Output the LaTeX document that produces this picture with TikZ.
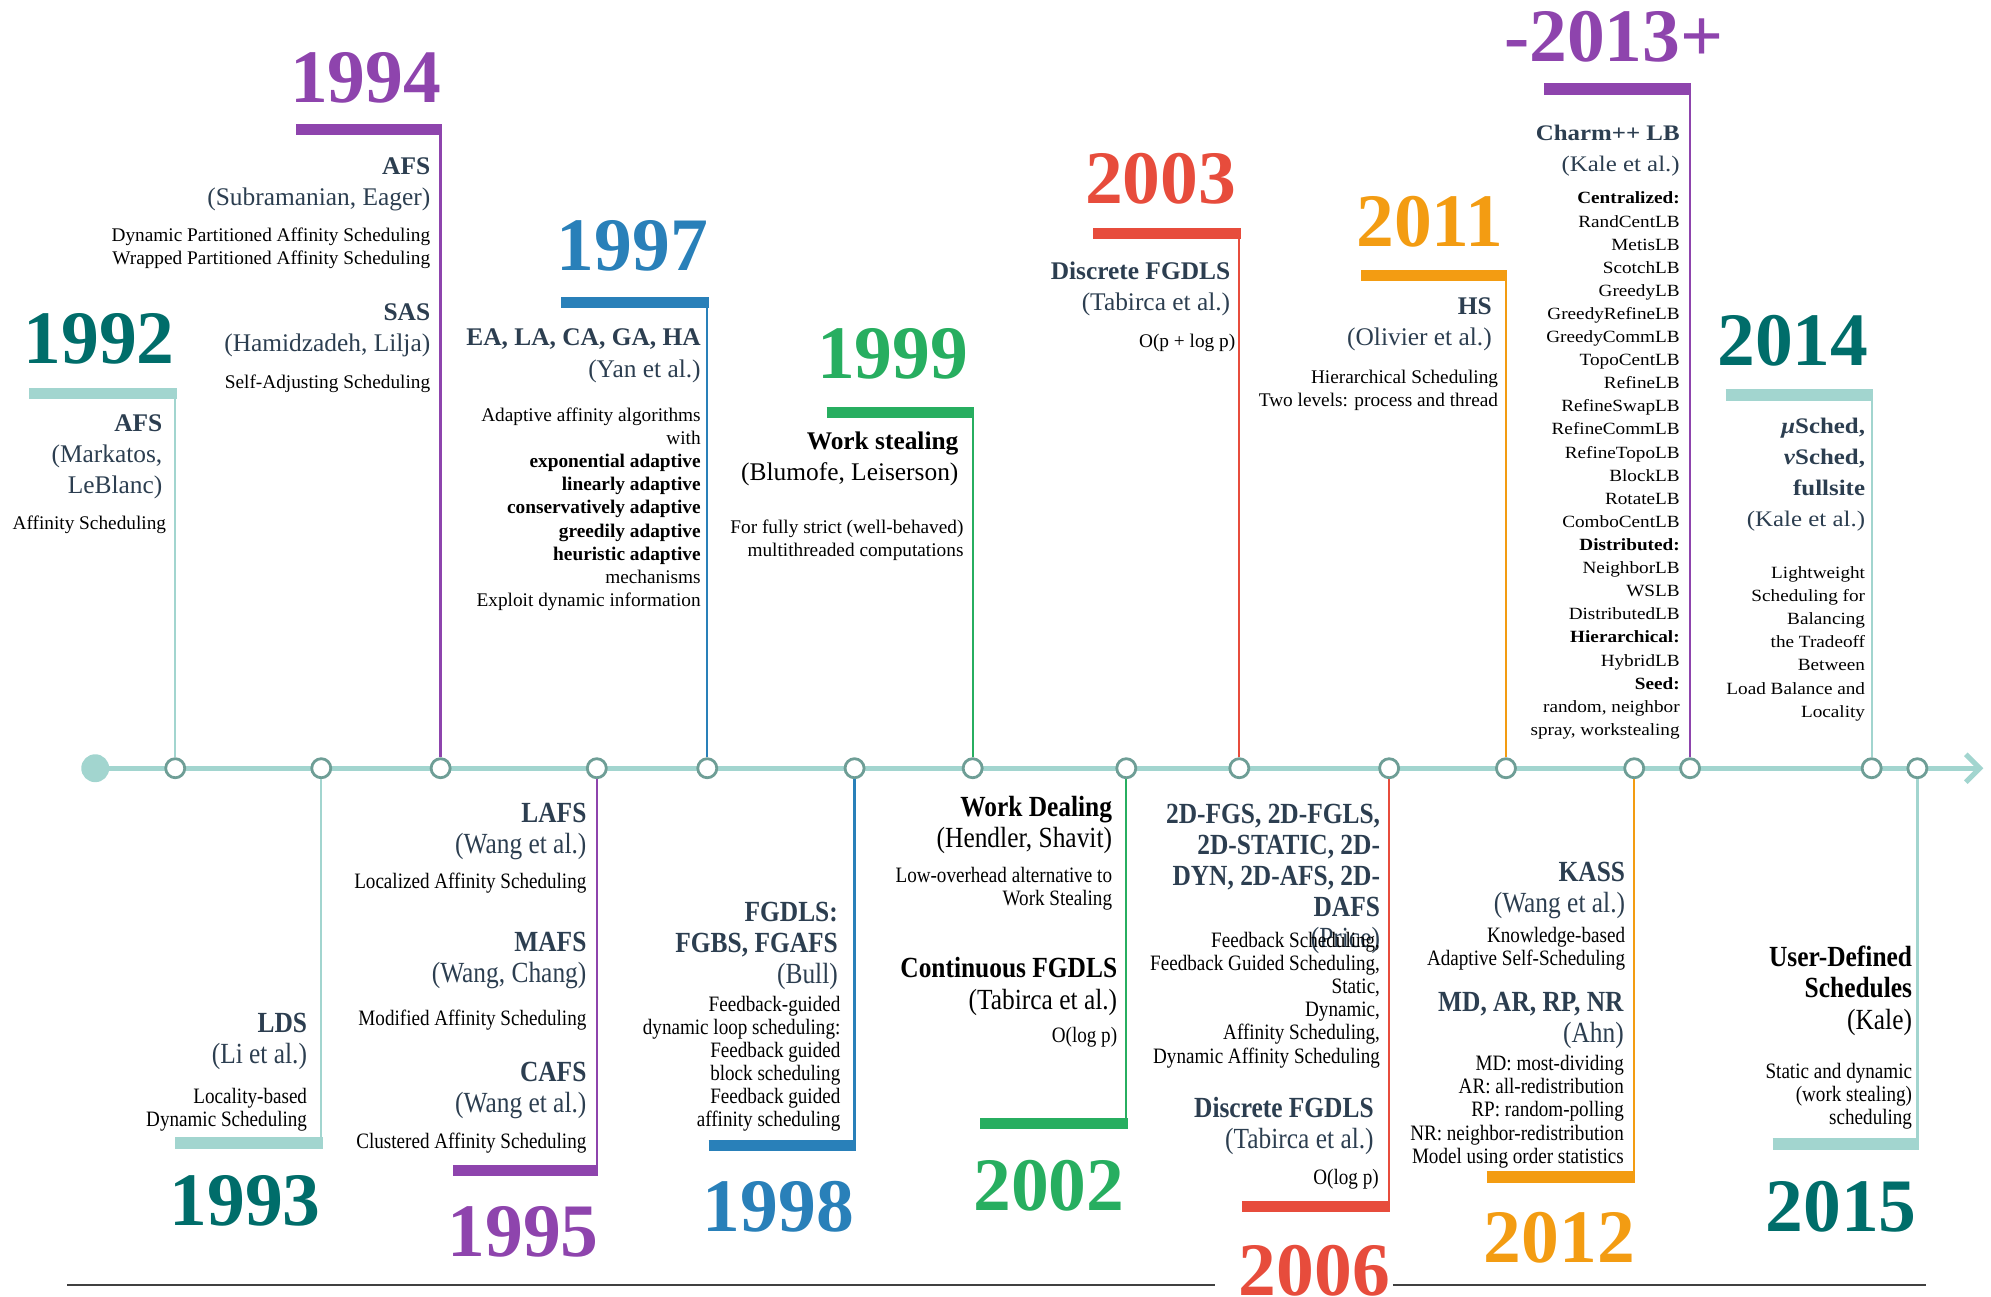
\documentclass[tikz,border=0pt]{standalone}
\usepackage{fontspec}
\setmainfont{Liberation Serif}
\newfontfamily\cond[FakeStretch=0.87]{Liberation Serif}
\newfontfamily\wide[FakeStretch=1.12]{Liberation Serif}
\usetikzlibrary{arrows.meta}
\definecolor{tealdark}{HTML}{006D6A}
\definecolor{teallight}{HTML}{A2D5CF}
\definecolor{circ}{HTML}{6E9E96}
\definecolor{cpurple}{HTML}{8E44AD}
\definecolor{cblue}{HTML}{2980B9}
\definecolor{cgreen}{HTML}{27AE60}
\definecolor{cred}{HTML}{E74C3C}
\definecolor{corange}{HTML}{F39C12}
\definecolor{slate}{HTML}{2C3E50}
\begin{document}
\begin{tikzpicture}[x=1pt,y=-1pt,
  yr/.style={font=\bfseries\fontsize{59.5}{60}\selectfont, inner sep=0, anchor=center},
  hd/.style={anchor=north east, align=right, inner sep=0, text=slate, font=\fontsize{20}{24.5}\selectfont},
  ds/.style={anchor=north east, align=right, inner sep=0, text=black, font=\fontsize{15.2}{18.2}\selectfont},
  hdc/.style={hd, font=\cond\fontsize{23}{24.5}\selectfont},
  dsc/.style={ds, font=\cond\fontsize{17.3}{18.2}\selectfont},
  hdw/.style={hd, font=\wide\fontsize{17.5}{24.5}\selectfont},
  dsw/.style={ds, font=\wide\fontsize{13.5}{18.2}\selectfont},
  dot/.style={circle, draw=circ, fill=white, line width=2.2pt, minimum size=15pt, inner sep=0},
  startdot/.style={circle, fill=teallight, minimum size=22pt, inner sep=0},
  axis/.style={teallight, line width=4pt, -{Straight Barb[length=11pt,width=22pt]}},
  bar/.style={line width=9pt},
  vl/.style={line width=1.8pt},
  baseline/.style={black!75, line width=1pt}
]
\useasboundingbox (0,0) rectangle (1568,1021);

% axis
\node[startdot] (c0) at (75,605) {};
\coordinate (aend) at (1562,605);
\draw[axis] (c0) -- (aend);

% circles
\foreach \n/\x in {92/138,93/253,94/347,95/470,97/557,98/673,99/766,02/887,03/976,06/1094,11/1186,12/1287,13/1331,14/1474,15/1510}
  \node[dot] (c\n) at (\x,605) {};

% bar coordinates
\coordinate (l92) at (23,310);   \coordinate (b92) at (139,310);
\coordinate (l93) at (138,900);  \coordinate (b93) at (254,900);
\coordinate (l94) at (233,102);  \coordinate (b94) at (348,102);
\coordinate (l95) at (357,922);  \coordinate (b95) at (471,922);
\coordinate (l97) at (442,238);  \coordinate (b97) at (558,238);
\coordinate (l98) at (558,902);  \coordinate (b98) at (674,902);
\coordinate (l99) at (651,325);  \coordinate (b99) at (767,325);
\coordinate (l02) at (772,885);  \coordinate (b02) at (888,885);
\coordinate (l03) at (861,184);  \coordinate (b03) at (977,184);
\coordinate (l06) at (978,950);  \coordinate (b06) at (1095,950);
\coordinate (l11) at (1072,217); \coordinate (b11) at (1187,217);
\coordinate (l12) at (1171,927); \coordinate (b12) at (1288,927);
\coordinate (l13) at (1216,70);  \coordinate (b13) at (1332,70);
\coordinate (l14) at (1359,311); \coordinate (b14) at (1475,311);
\coordinate (l15) at (1396,901); \coordinate (b15) at (1511,901);

% vertical connectors
\draw[vl, teallight] (c92.north) -- (c92 |- b92);
\draw[vl, teallight] (c93.south) -- (c93 |- b93);
\draw[vl, cpurple]   (c94.north) -- (c94 |- b94);
\draw[vl, cpurple]   (c95.south) -- (c95 |- b95);
\draw[vl, cblue]     (c97.north) -- (c97 |- b97);
\draw[vl, cblue]     (c98.south) -- (c98 |- b98);
\draw[vl, cgreen]    (c99.north) -- (c99 |- b99);
\draw[vl, cgreen]    (c02.south) -- (c02 |- b02);
\draw[vl, cred]      (c03.north) -- (c03 |- b03);
\draw[vl, cred]      (c06.south) -- (c06 |- b06);
\draw[vl, corange]   (c11.north) -- (c11 |- b11);
\draw[vl, corange]   (c12.south) -- (c12 |- b12);
\draw[vl, cpurple]   (c13.north) -- (c13 |- b13);
\draw[vl, teallight] (c14.north) -- (c14 |- b14);
\draw[vl, teallight] (c15.south) -- (c15 |- b15);

% bars
\draw[bar, teallight] (l92) -- (b92);
\draw[bar, teallight] (l93) -- (b93);
\draw[bar, cpurple]   (l94) -- (b94);
\draw[bar, cpurple]   (l95) -- (b95);
\draw[bar, cblue]     (l97) -- (b97);
\draw[bar, cblue]     (l98) -- (b98);
\draw[bar, cgreen]    (l99) -- (b99);
\draw[bar, cgreen]    (l02) -- (b02);
\draw[bar, cred]      (l03) -- (b03);
\draw[bar, cred]      (l06) -- (b06);
\draw[bar, corange]   (l11) -- (b11);
\draw[bar, corange]   (l12) -- (b12);
\draw[bar, cpurple]   (l13) -- (b13);
\draw[bar, teallight] (l14) -- (b14);
\draw[bar, teallight] (l15) -- (b15);

% years
\node[yr, text=tealdark] (y92) at (78,267) {1992};
\node[yr, text=tealdark] (y93) at (193,946) {1993};
\node[yr, text=cpurple]  (y94) at (288,61) {1994};
\node[yr, text=cpurple]  (y95) at (412,970) {1995};
\node[yr, text=cblue]    (y97) at (498,194) {1997};
\node[yr, text=cblue]    (y98) at (613,950) {1998};
\node[yr, text=cgreen]   (y99) at (703,279) {1999};
\node[yr, text=cgreen]   (y02) at (826,934) {2002};
\node[yr, text=cred]     (y03) at (914,141) {2003};
\node[yr, text=cred]     (y06) at (1035,1001) {2006};
\node[yr, text=corange]  (y11) at (1126,175) {2011};
\node[yr, text=corange]  (y12) at (1228,975) {2012};
\node[yr, text=cpurple]  (y13) at (1271,29) {-2013+};
\node[yr, text=tealdark] (y14) at (1412,268) {2014};
\node[yr, text=tealdark] (y15) at (1450,950) {2015};

% 1992
\node[hd] (h92) at (128,326) {\textbf{AFS}\\(Markatos,\\LeBlanc)};
\node[ds] (d92) at (131,406) {Affinity Scheduling};
% 1993
\node[hdc] (h93) at (242,798) {\textbf{LDS}\\(Li et al.)};
\node[dsc] (d93) at (242,857) {Locality-based\\Dynamic Scheduling};
% 1994
\node[hd] (h94a) at (339,124) {\textbf{AFS}\\(Subramanian, Eager)};
\node[ds] (d94a) at (339,179) {Dynamic Partitioned Affinity Scheduling\\Wrapped Partitioned Affinity Scheduling};
\node[hd] (h94b) at (339,239) {\textbf{SAS}\\(Hamidzadeh, Lilja)};
\node[ds] (d94b) at (339,295) {Self-Adjusting Scheduling};
% 1995
\node[hdc] (h95a) at (462,632) {\textbf{LAFS}\\(Wang et al.)};
\node[dsc] (d95a) at (462,687) {Localized Affinity Scheduling};
\node[hdc] (h95b) at (462,734) {\textbf{MAFS}\\(Wang, Chang)};
\node[dsc] (d95b) at (462,795) {Modified Affinity Scheduling};
\node[hdc] (h95c) at (462,836) {\textbf{CAFS}\\(Wang et al.)};
\node[dsc] (d95c) at (462,892) {Clustered Affinity Scheduling};
% 1997
\node[hd] (h97) at (552,259) {\textbf{EA, LA, CA, GA, HA}\\(Yan et al.)};
\node[ds] (d97) at (552,321) {Adaptive affinity algorithms\\with\\\textbf{exponential adaptive}\\\textbf{linearly adaptive}\\\textbf{conservatively adaptive}\\\textbf{greedily adaptive}\\\textbf{heuristic adaptive}\\mechanisms\\Exploit dynamic information};
% 1998
\node[hdc] (h98) at (660,710) {\textbf{FGDLS:}\\\textbf{FGBS, FGAFS}\\(Bull)};
\node[dsc] (d98) at (662,784) {Feedback-guided\\dynamic loop scheduling:\\Feedback guided\\block scheduling\\Feedback guided\\affinity scheduling};
% 1999
\node[hd, text=black] (h99) at (755,340) {\textbf{Work stealing}\\(Blumofe, Leiserson)};
\node[ds] (d99) at (759,409) {For fully strict (well-behaved)\\multithreaded computations};
% 2002
\node[hdc, text=black] (h02a) at (876,627) {\textbf{Work Dealing}\\(Hendler, Shavit)};
\node[dsc] (d02a) at (876,683) {Low-overhead alternative to\\Work Stealing};
\node[hdc, text=black] (h02b) at (880,754) {\textbf{Continuous FGDLS}\\(Tabirca et al.)};
\node[dsc] (d02b) at (880,809) {O(log p)};
% 2003
\node[hd] (h03) at (969,206) {\textbf{Discrete FGDLS}\\(Tabirca et al.)};
\node[ds] (d03) at (973,263) {O(p + log p)};
% 2006
\node[hdc] (h06a) at (1087,633) {\textbf{2D-FGS, 2D-FGLS,}\\\textbf{2D-STATIC, 2D-}\\\textbf{DYN, 2D-AFS, 2D-}\\\textbf{DAFS}\\(Price)};
\node[dsc] (d06a) at (1087,734) {Feedback Scheduling,\\Feedback Guided Scheduling,\\Static,\\Dynamic,\\Affinity Scheduling,\\Dynamic Affinity Scheduling};
\node[hdc] (h06b) at (1082,864) {\textbf{Discrete FGDLS}\\(Tabirca et al.)};
\node[dsc] (d06b) at (1086,921) {O(log p)};
% 2011
\node[hd] (h11) at (1175,234) {\textbf{HS}\\(Olivier et al.)};
\node[ds] (d11) at (1180,291) {Hierarchical Scheduling\\Two levels: process and thread};
% 2012
\node[hdc] (h12a) at (1280,679) {\textbf{KASS}\\(Wang et al.)};
\node[dsc] (d12a) at (1280,730) {Knowledge-based\\Adaptive Self-Scheduling};
\node[hdc] (h12b) at (1279,781) {\textbf{MD, AR, RP, NR}\\(Ahn)};
\node[dsc] (d12b) at (1279,831) {MD: most-dividing\\AR: all-redistribution\\RP: random-polling\\NR: neighbor-redistribution\\Model using order statistics};
% 2013
\node[hdw] (h13) at (1323,98) {\textbf{Charm++ LB}\\(Kale et al.)};
\node[dsw] (d13) at (1323,151) {\textbf{Centralized:}\\RandCentLB\\MetisLB\\ScotchLB\\GreedyLB\\GreedyRefineLB\\GreedyCommLB\\TopoCentLB\\RefineLB\\RefineSwapLB\\RefineCommLB\\RefineTopoLB\\BlockLB\\RotateLB\\ComboCentLB\\\textbf{Distributed:}\\NeighborLB\\WSLB\\DistributedLB\\\textbf{Hierarchical:}\\HybridLB\\\textbf{Seed:}\\random, neighbor\\spray, workstealing};
% 2014
\node[hdw] (h14) at (1469,329) {\textbf{\textit{μ}Sched,}\\\textbf{\textit{ν}Sched,}\\\textbf{fullsite}\\(Kale et al.)};
\node[dsw] (d14) at (1469,446) {Lightweight\\Scheduling for\\Balancing\\the Tradeoff\\Between\\Load Balance and\\Locality};
% 2015
\node[hdc, text=black] (h15) at (1506,745) {\textbf{User-Defined}\\\textbf{Schedules}\\(Kale)};
\node[dsc] (d15) at (1506,837) {Static and dynamic\\(work stealing)\\scheduling};

% bottom rule
\coordinate (r1) at (53,1012); \coordinate (r2) at (957,1012);
\coordinate (r3) at (1097,1012); \coordinate (r4) at (1517,1012);
\draw[baseline] (r1) -- (r2);
\draw[baseline] (r3) -- (r4);
\end{tikzpicture}
\end{document}
